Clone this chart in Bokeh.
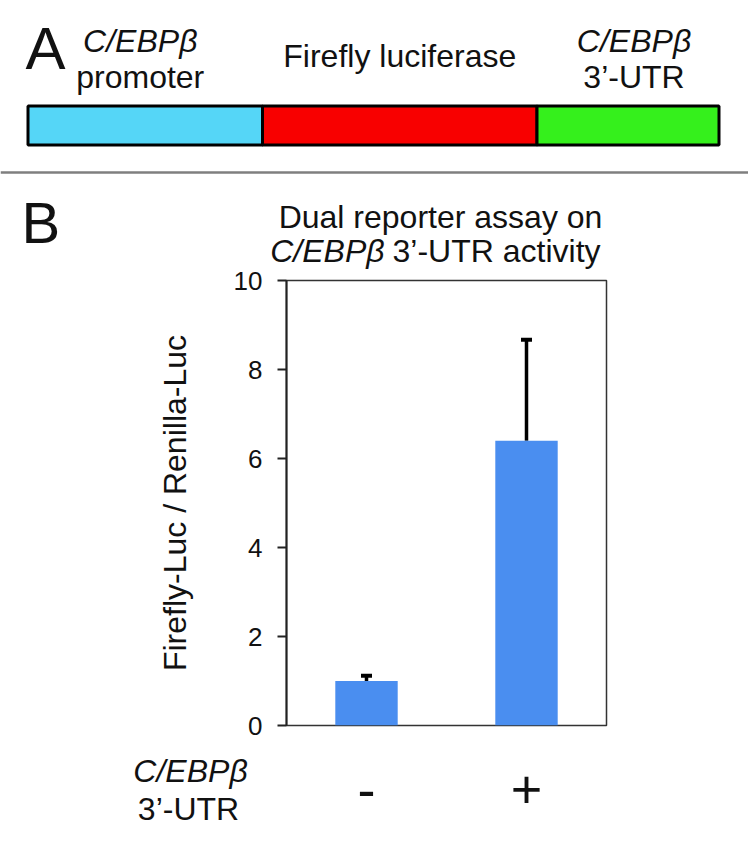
from bokeh.plotting import figure
from bokeh.models import (Range1d, FactorRange, ColumnDataSource, Label, Span,
                          Whisker, TeeHead, FixedTicker)
from bokeh.layouts import column
from bokeh.embed import file_html
from bokeh.resources import INLINE

# ---------------- data ----------------
# Panel A: reporter construct (segment names and relative lengths)
segment_top = ["C/EBPβ", "", "C/EBPβ"]
segment_bottom = ["promoter", "Firefly luciferase", "3’-UTR"]
segment_lengths = [234.5, 274.5, 182]

# Panel B: dual reporter assay
conditions = ["-", "+"]
ratio_mean = [1.0, 6.4]
ratio_err = [0.12, 2.27]
y_ticks = [0, 2, 4, 6, 8, 10]

# ---------------- styles ----------------
FONT = "Liberation Sans"
TXT = "#111111"
segment_colors = ["#55d6f7", "#f80000", "#35f01c"]
BAR_COLOR = "#4a8ef0"
W = 748
TOP_H = 272            # panel A + title of panel B
OVERLAP = 20           # chart canvas slides under the title (transparent border)
MID_TOP = TOP_H - OVERLAP
MID_H = 748 - MID_TOP
BOT_H = 98
BASE_K = 0.36   # renderer places the text baseline this many em below y


def label(fig, x, base_px, text, size=32, style="normal", align="left"):
    fig.add_layout(Label(x=x, y=base_px - BASE_K * size, text=text, text_font=FONT,
                         text_font_size=f"{size}px", text_font_style=style,
                         text_align=align, text_baseline="alphabetic",
                         text_color=TXT))


def no_grid(fig):
    fig.xgrid.grid_line_color = None
    fig.ygrid.grid_line_color = None


# ---------------- top: panel A + panel B title ----------------
pt = figure(width=W, height=TOP_H, x_range=Range1d(-27.5, W - 27.5),
            y_range=Range1d(TOP_H, 0), output_backend="svg", toolbar_location=None,
            x_axis_location=None, y_axis_location=None, min_border=0,
            outline_line_color=None)
no_grid(pt)


def tx(px):
    return px - 27.5


lefts, rights = [], []
acc = 0
for L in segment_lengths:
    lefts.append(acc)
    acc += L
    rights.append(acc)
src_a = ColumnDataSource(dict(left=lefts, right=rights, color=segment_colors))
pt.hbar(y=125, height=39, left="left", right="right", fill_color="color",
        line_color="black", line_width=3, source=src_a)

label_shift = [-5, 0, 6]
for i in range(len(segment_lengths)):
    cx = (lefts[i] + rights[i]) / 2 + label_shift[i]
    if segment_top[i]:
        label(pt, cx, 52, segment_top[i], style="italic", align="center")
        label(pt, cx, 88, segment_bottom[i], align="center")
    else:
        label(pt, cx, 67, segment_bottom[i], align="center")

label(pt, tx(25), 70, "A", size=60)
pt.add_layout(Span(location=172, dimension="width", line_color="#7f7f7f", line_width=2.5))

label(pt, tx(21), 243, "B", size=58)
label(pt, tx(440), 228, "Dual reporter assay on", align="center")
label(pt, tx(384), 262, "C/EBPβ", style="italic", align="right")
label(pt, tx(392), 262, "3’-UTR activity")

# ---------------- middle: bar chart ----------------
pb = figure(width=W, height=MID_H, x_range=FactorRange(*conditions),
            y_range=Range1d(0, 10), output_backend="svg", toolbar_location=None,
            x_axis_location=None,
            min_border_left=286, min_border_right=W - 606,
            min_border_top=280 - MID_TOP, min_border_bottom=748 - 725,
            outline_line_color="#333333", outline_line_width=1.5,
            border_fill_alpha=0, margin=(-OVERLAP, 0, 0, 0))
no_grid(pb)

src_b = ColumnDataSource(dict(x=conditions, top=ratio_mean,
                              upper=[m + e for m, e in zip(ratio_mean, ratio_err)],
                              lower=ratio_mean))
pb.vbar(x="x", top="top", width=0.39, fill_color=BAR_COLOR, line_color=None, source=src_b)
pb.add_layout(Whisker(base="x", upper="upper", lower="lower", source=src_b,
                      dimension="height", line_color="black", line_width=3.5,
                      upper_head=TeeHead(size=11, line_width=4, line_color="black"),
                      lower_head=None))

ya = pb.yaxis[0]
ya.ticker = FixedTicker(ticks=y_ticks)
ya.major_label_text_font = FONT
ya.major_label_text_font_size = "26px"
ya.major_label_text_color = TXT
ya.major_tick_out = 9
ya.major_tick_in = 0
ya.minor_tick_line_color = None
ya.axis_line_width = 2
ya.axis_line_color = "#222222"
ya.major_tick_line_width = 2
ya.major_tick_line_color = "#222222"
ya.major_label_standoff = 15
ya.axis_label = "Firefly-Luc / Renilla-Luc"
ya.axis_label_text_font = FONT
ya.axis_label_text_font_size = "32px"
ya.axis_label_text_font_style = "normal"
ya.axis_label_text_color = TXT
ya.axis_label_standoff = 38

# ---------------- bottom: category labels ----------------
# same horizontal scale as the bar chart: frame 286..606 px for 2 category units
px_per_unit = (606 - 286) / 2.0
pc = figure(width=W, height=BOT_H,
            x_range=Range1d(-286 / px_per_unit, (W - 286) / px_per_unit),
            y_range=Range1d(748 + BOT_H, 748),
            output_backend="svg", toolbar_location=None,
            x_axis_location=None, y_axis_location=None, min_border=0,
            outline_line_color=None)
no_grid(pc)


def cx_(px):
    return (px - 286) / px_per_unit


for i, c in enumerate(conditions):
    label(pc, i + 0.5, 808, c, size=54, align="center")
label(pc, cx_(190), 782, "C/EBPβ", style="italic", align="center")
label(pc, cx_(188), 820, "3’-UTR", align="center")

layout = column(column(pt), column(pb), column(pc))
open("out.html", "w").write(file_html(layout, INLINE))
